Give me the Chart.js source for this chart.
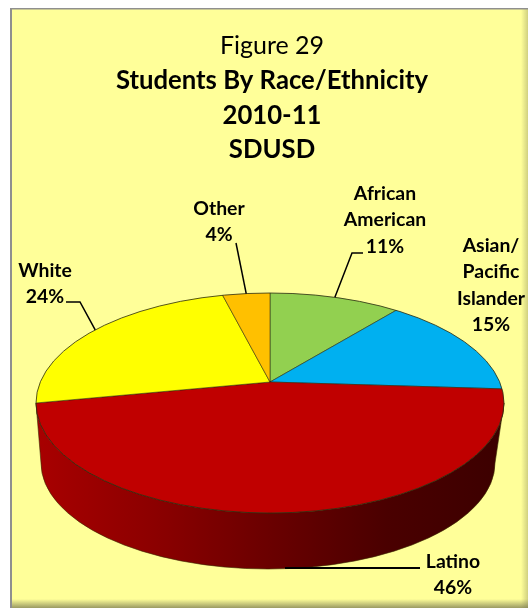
<!DOCTYPE html>
<html>
<head>
<meta charset="utf-8">
<style>
  html, body { margin: 0; padding: 0; background: #fff; overflow: hidden; }
  canvas { display: block; }
</style>
<script src="https://cdn.jsdelivr.net/npm/chart.js@4"></script>
</head>
<body>
<canvas id="chart" width="528" height="608"></canvas>
<script>
const categories = ['African American', 'Asian/ Pacific Islander', 'Latino', 'White', 'Other'];
const shares = [11, 15, 46, 24, 4];
const sliceColors = ['#92D050', '#00B0F0', '#C00000', '#FFFF00', '#FFC000'];
const titleLine = 'Figure 29';
const subtitleLines = ['Students By Race/Ethnicity', '2010-11', 'SDUSD'];

// label centre (x, y of first line) for each slice
const labelPos = [[385, 194], [491, 246], [453, 562], [45, 271], [219, 209]];
const labelLineGap = 26.2;

// the tilted disc: top face ellipse, apex sits above its centre
const tilt = 0.47;
const top3d = { x: 270, y: 403, rx: 234, ry: 110 };
const bottom3d = { x: 268, y: 463, rx: 227, ry: 106 };
const apexY = 382;

function rimPoint(arc) {
  const a = (arc.startAngle + arc.endAngle) / 2;
  const dx = Math.cos(a), dy = Math.sin(a) * tilt;
  const c = top3d.y - apexY;
  const A = (dx * dx) / (top3d.rx * top3d.rx) + (dy * dy) / (top3d.ry * top3d.ry);
  const B = -2 * dy * c / (top3d.ry * top3d.ry);
  const C = (c * c) / (top3d.ry * top3d.ry) - 1;
  const t = (-B + Math.sqrt(B * B - 4 * A * C)) / (2 * A);
  return [top3d.x + dx * t, apexY + dy * t];
}

const discPlugin = {
  id: 'disc',
  beforeDraw(chart) {
    const ctx = chart.ctx;
    ctx.save();
    ctx.fillStyle = '#fff';
    ctx.fillRect(0, 0, 528, 608);
    ctx.fillStyle = '#FFFF99';
    ctx.fillRect(11, 9, 517, 599);
    const shade = ctx.createLinearGradient(0, 599, 0, 608);
    shade.addColorStop(0, 'rgba(120,120,80,0)');
    shade.addColorStop(1, 'rgba(120,120,80,0.75)');
    ctx.fillStyle = shade;
    ctx.fillRect(11, 599, 517, 9);
    const shadeR = ctx.createLinearGradient(521, 0, 528, 0);
    shadeR.addColorStop(0, 'rgba(120,120,80,0)');
    shadeR.addColorStop(1, 'rgba(120,120,80,0.35)');
    ctx.fillStyle = shadeR;
    ctx.fillRect(521, 9, 7, 599);
    ctx.fillStyle = '#8f8f8f';
    ctx.fillRect(10, 8, 518, 1.5);
    ctx.fillRect(10, 8, 2, 600);
    ctx.restore();
  },
  beforeDatasetsDraw(chart) {
    const ctx = chart.ctx;
    // side wall of the front slice
    const wall = ctx.createLinearGradient(36, 0, 504, 0);
    wall.addColorStop(0, '#A80000');
    wall.addColorStop(0.25, '#8C0000');
    wall.addColorStop(0.5, '#6A0000');
    wall.addColorStop(0.75, '#4A0000');
    wall.addColorStop(1, '#3C0000');
    ctx.save();
    ctx.beginPath();
    ctx.ellipse(top3d.x, top3d.y, top3d.rx, top3d.ry, 0, 0, Math.PI);
    ctx.ellipse(bottom3d.x, bottom3d.y, bottom3d.rx, bottom3d.ry, 0, Math.PI, 0, true);
    ctx.closePath();
    ctx.fillStyle = wall;
    ctx.fill();
    ctx.lineWidth = 0.6;
    ctx.strokeStyle = '#3a2a00';
    ctx.stroke();
    ctx.restore();

    // squash the library's arcs onto the top face
    const arc = chart.getDatasetMeta(0).data[0];
    ctx.save();
    ctx.beginPath();
    ctx.ellipse(top3d.x, top3d.y, top3d.rx, top3d.ry, 0, 0, Math.PI * 2);
    ctx.clip();
    ctx.translate(top3d.x, apexY);
    ctx.scale(1, tilt);
    ctx.translate(-arc.x, -arc.y);
  },
  afterDatasetsDraw(chart) {
    const ctx = chart.ctx;
    ctx.restore();
    ctx.save();
    ctx.beginPath();
    ctx.ellipse(top3d.x, top3d.y, top3d.rx, top3d.ry, 0, 0, Math.PI * 2);
    ctx.lineWidth = 0.8;
    ctx.strokeStyle = '#2b2b10';
    ctx.stroke();

    const arcs = chart.getDatasetMeta(0).data;
    ctx.lineWidth = 1.5;
    ctx.strokeStyle = '#000';
    const line = (pts) => {
      ctx.beginPath();
      pts.forEach((p, i) => (i ? ctx.lineTo(p[0], p[1]) : ctx.moveTo(p[0], p[1])));
      ctx.stroke();
    };
    line([rimPoint(arcs[0]), [352, 253], [363, 253]]);
    line([rimPoint(arcs[3]), [80, 302], [66, 302]]);
    line([rimPoint(arcs[4]), [236, 243]]);
    ctx.lineWidth = 2;
    line([[285, 568], [420, 568]]);

    ctx.fillStyle = '#000';
    ctx.font = 'bold 19.4px Lato';
    ctx.textAlign = 'center';
    ctx.textBaseline = 'middle';
    categories.forEach((name, i) => {
      const lines = name.split(' ').concat(shares[i] + '%');
      lines.forEach((txt, j) => {
        ctx.fillText(txt, labelPos[i][0], labelPos[i][1] + j * labelLineGap);
      });
    });
    ctx.restore();
  }
};

new Chart(document.getElementById('chart'), {
  type: 'pie',
  data: {
    labels: categories,
    datasets: [{
      data: shares,
      backgroundColor: sliceColors,
      borderColor: 'rgba(40,40,20,0.75)',
      borderWidth: 1
    }]
  },
  options: {
    responsive: false,
    animation: false,
    radius: 300,
    layout: { padding: { top: 29, left: 16, bottom: 11 } },
    plugins: {
      legend: { display: false },
      tooltip: { enabled: false },
      title: {
        display: true,
        text: titleLine,
        color: '#000',
        padding: 0,
        font: { family: 'Lato', size: 25, weight: 'normal', lineHeight: 1.38 }
      },
      subtitle: {
        display: true,
        text: subtitleLines,
        color: '#000',
        padding: 0,
        font: { family: 'Lato', size: 25.7, weight: 'bold', lineHeight: 1.345 }
      }
    }
  },
  plugins: [discPlugin]
});
</script>
</body>
</html>
